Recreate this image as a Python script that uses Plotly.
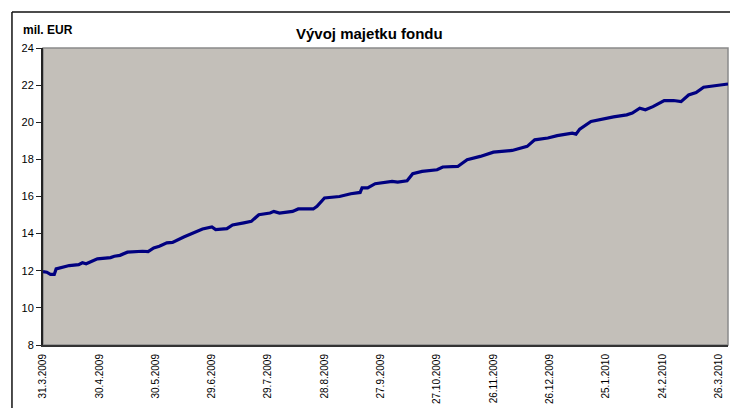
import plotly.graph_objects as go

dates = [
    "2009-03-31", "2009-04-02", "2009-04-04", "2009-04-06", "2009-04-07", "2009-04-10",
    "2009-04-14", "2009-04-19", "2009-04-21", "2009-04-23", "2009-04-26", "2009-04-29",
    "2009-05-06", "2009-05-08", "2009-05-11", "2009-05-15", "2009-05-23", "2009-05-26",
    "2009-05-29", "2009-06-01", "2009-06-05", "2009-06-08", "2009-06-14", "2009-06-19",
    "2009-06-24", "2009-06-29", "2009-07-01", "2009-07-07", "2009-07-10", "2009-07-16",
    "2009-07-20", "2009-07-24", "2009-07-30", "2009-08-01", "2009-08-04", "2009-08-11",
    "2009-08-14", "2009-08-22", "2009-08-24", "2009-08-28", "2009-09-05", "2009-09-11",
    "2009-09-16", "2009-09-17", "2009-09-20", "2009-09-24", "2009-09-30", "2009-10-03",
    "2009-10-06", "2009-10-11", "2009-10-14", "2009-10-19", "2009-10-27", "2009-10-30",
    "2009-11-07", "2009-11-12", "2009-11-19", "2009-11-24", "2009-11-26", "2009-12-06",
    "2009-12-12", "2009-12-14", "2009-12-18", "2009-12-25", "2009-12-30", "2010-01-04",
    "2010-01-07", "2010-01-09", "2010-01-11", "2010-01-17", "2010-01-23", "2010-01-29",
    "2010-02-05", "2010-02-08", "2010-02-12", "2010-02-15", "2010-02-19", "2010-02-23",
    "2010-02-25", "2010-03-02", "2010-03-06", "2010-03-10", "2010-03-14", "2010-03-18",
    "2010-03-21", "2010-03-25", "2010-03-31",
]
values = [
    11.95, 11.92, 11.80, 11.80, 12.10, 12.17,
    12.28, 12.33, 12.43, 12.38, 12.50, 12.64,
    12.71, 12.78, 12.83, 13.00, 13.05, 13.03,
    13.23, 13.32, 13.50, 13.53, 13.82, 14.04,
    14.25, 14.36, 14.22, 14.27, 14.47, 14.58,
    14.66, 15.02, 15.11, 15.20, 15.11, 15.20,
    15.33, 15.33, 15.47, 15.92, 16.00, 16.15,
    16.22, 16.46, 16.46, 16.69, 16.78, 16.81,
    16.78, 16.85, 17.23, 17.35, 17.44, 17.59,
    17.62, 17.98, 18.16, 18.30, 18.39, 18.48,
    18.66, 18.70, 19.05, 19.15, 19.28, 19.36,
    19.41, 19.36, 19.63, 20.04, 20.18, 20.29,
    20.40, 20.49, 20.76, 20.67, 20.84, 21.03,
    21.17, 21.17, 21.11, 21.47, 21.60, 21.89,
    21.92, 22.00, 22.06,
]

tick_dates = [
    "2009-03-31", "2009-04-30", "2009-05-30", "2009-06-29", "2009-07-29", "2009-08-28",
    "2009-09-27", "2009-10-27", "2009-11-26", "2009-12-26", "2010-01-25", "2010-02-24",
    "2010-03-26",
]
tick_labels = [
    "31.3.2009", "30.4.2009", "30.5.2009", "29.6.2009", "29.7.2009", "28.8.2009",
    "27.9.2009", "27.10.2009", "26.11.2009", "26.12.2009", "25.1.2010", "24.2.2010",
    "26.3.2010",
]
y_ticks = [8, 10, 12, 14, 16, 18, 20, 22, 24]

title_text = "Vývoj majetku fondu"
unit_text = "mil. EUR"

fig = go.Figure()
fig.add_trace(go.Scatter(
    x=dates, y=values, mode="lines",
    line=dict(color="#000080", width=3.2),
    hoverinfo="skip", showlegend=False,
))

FONT = "Liberation Sans, Arial, sans-serif"

fig.update_layout(
    width=730, height=408,
    margin=dict(l=43, r=2, t=48, b=63, autoexpand=False),
    paper_bgcolor="white",
    plot_bgcolor="#C3BFB9",
    font=dict(family=FONT, color="black"),
    showlegend=False,
    xaxis=dict(
        type="date",
        range=["2009-03-31", "2010-03-31"],
        tickmode="array", tickvals=tick_dates, ticktext=tick_labels,
        tickangle=-90, tickfont=dict(size=10, family=FONT, color="black"),
        ticklabelstandoff=3,
        showgrid=False, zeroline=False, automargin=False,
        showline=True, linecolor="#333333", linewidth=2,
        ticks="", ticklen=0,
    ),
    yaxis=dict(
        range=[8, 24],
        tickmode="array", tickvals=y_ticks,
        tickfont=dict(size=11, family=FONT, color="black"),
        showgrid=False, zeroline=False, automargin=False,
        showline=True, linecolor="#222222", linewidth=2,
        ticks="outside", ticklen=5, tickcolor="#222222", tickwidth=1,
    ),
    shapes=[
        dict(type="rect", xref="paper", yref="paper", x0=0, x1=1, y0=0, y1=1,
             line=dict(color="#8A8A8A", width=1.5), layer="below"),
        dict(type="line", xref="paper", yref="paper",
             x0=-0.0453, x1=1.01, y0=1.1212, y1=1.1212,
             line=dict(color="#111111", width=1.5)),
        dict(type="line", xref="paper", yref="paper",
             x0=-0.0453, x1=-0.0453, y0=1.1212, y1=-0.25,
             line=dict(color="#111111", width=1.5)),
    ],
    annotations=[
        dict(text="<b>" + title_text + "</b>", xref="paper", yref="paper",
             x=0.477, y=1.0505, xanchor="center", yanchor="middle",
             showarrow=False, font=dict(size=15, family=FONT, color="black")),
        dict(text="<b>" + unit_text + "</b>", xref="paper", yref="paper",
             x=-0.0321, y=1.0606, xanchor="left", yanchor="middle",
             showarrow=False, font=dict(size=12, family=FONT, color="black")),
    ],
)

fig.write_html(
    "out.html",
    config={"displayModeBar": False},
    post_script="document.body.style.margin='0';document.body.style.overflow='hidden';",
)
